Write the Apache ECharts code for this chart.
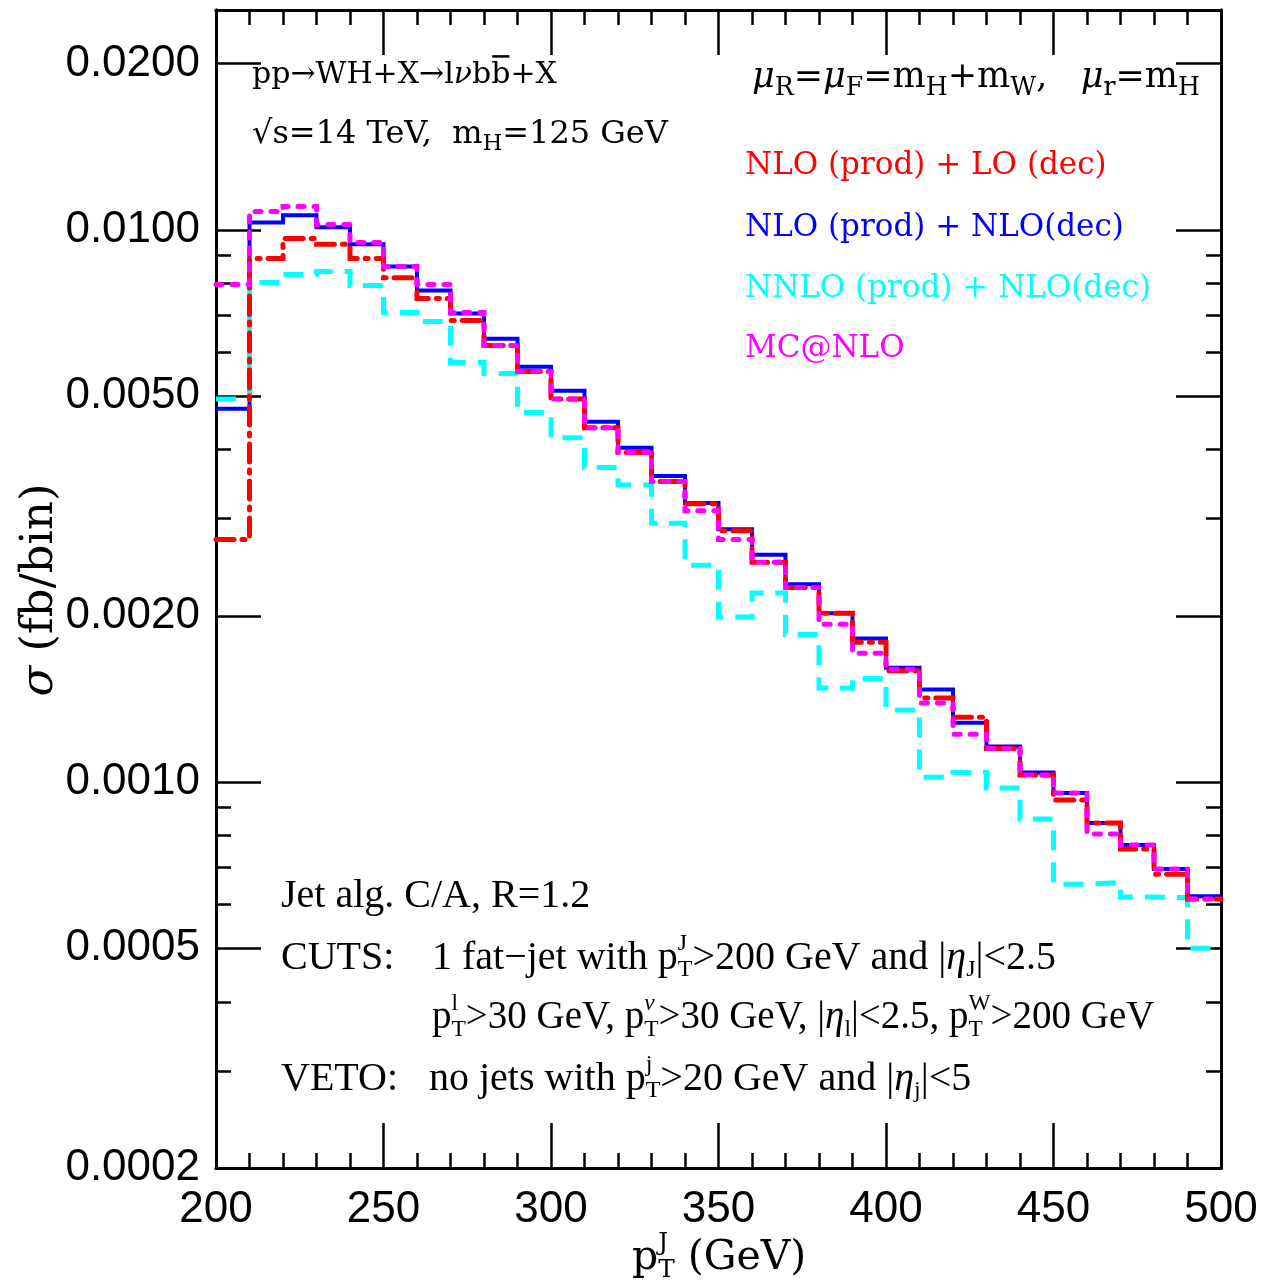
<!DOCTYPE html>
<html><head><meta charset="utf-8">
<script src="https://cdn.jsdelivr.net/npm/echarts@6/dist/echarts.min.js"></script>
<style>html,body{margin:0;padding:0;background:#fff}#c{width:1261px;height:1285px}</style>
</head><body><div id="c"></div>
<script>
// ---------------- data ----------------
const binEdges = [200,210,220,230,240,250,260,270,280,290,300,310,320,330,340,350,360,370,380,390,400,410,420,430,440,450,460,470,480,490,500];
const nloProdLoDec = [0.00275,0.00887,0.00964,0.00941,0.00887,0.00819,0.00751,0.00685,0.00617,0.00554,0.00494,0.00438,0.00395,0.00350,0.00319,0.00285,0.00250,0.00225,0.00202,0.00179,0.00159,0.00142,0.00131,0.00115,0.00103,0.000928,0.000843,0.000756,0.000681,0.000614];
const nloProdNloDec = [0.00474,0.01031,0.01062,0.01010,0.00941,0.00858,0.00776,0.00705,0.00635,0.00565,0.00511,0.00449,0.00403,0.00358,0.00320,0.00287,0.00258,0.00228,0.00202,0.00182,0.00161,0.00147,0.00128,0.00116,0.00104,0.000955,0.000843,0.000769,0.000696,0.000621];
const nnloProdNloDec = [0.00494,0.00803,0.00830,0.00840,0.00793,0.00708,0.00682,0.00575,0.00549,0.00467,0.00420,0.00371,0.00345,0.00294,0.00247,0.00199,0.00220,0.00185,0.00148,0.00154,0.00135,0.00102,0.00104,0.000975,0.000857,0.000653,0.000658,0.000619,0.000617,0.000500];
const mcAtNlo = [0.00796,0.01079,0.01102,0.01022,0.00948,0.00858,0.00796,0.00708,0.00617,0.00554,0.00494,0.00438,0.00395,0.00350,0.00310,0.00275,0.00250,0.00225,0.00193,0.00171,0.00160,0.00139,0.00122,0.00115,0.00103,0.000955,0.000805,0.000769,0.000696,0.000614];
const xTickValues = [200,250,300,350,400,450,500];
const yMajorTicks = [0.0002,0.0005,0.001,0.002,0.005,0.01,0.02];
const yMinorTicks = [0.0003,0.0004,0.0006,0.0007,0.0008,0.0009,0.003,0.004,0.006,0.007,0.008,0.009];
const seriesNames = ['NLO (prod) + LO (dec)','NLO (prod) + NLO(dec)','NNLO (prod) + NLO(dec)','MC@NLO'];

// ---------------- helpers ----------------
function histData(vals){ return binEdges.map((x,i)=>[x, vals[Math.min(i, vals.length-1)]]); }
const mctx = document.createElement('canvas').getContext('2d');
function fontStr(size, fam, it){ return (it?'italic ':'') + size + 'px ' + fam; }
function tw(t, size, fam, it){ mctx.font = fontStr(size, fam, it); return mctx.measureText(t).width; }
function txt(x, y, t, size, fam, color, it){
  return {type:'text', x:x, y:y, silent:true, z:100,
    style:{text:t, font:fontStr(size,fam,it), fill:color, align:'left', verticalAlign:'middle'}};
}
function addLine(els, x, y, parts, opt){
  const size = opt.size, fam = opt.family, color = opt.color || '#000';
  const sc = opt.scriptScale || 0.62;
  let cx = x;
  for (let p of parts){
    if (typeof p === 'string') p = {t:p};
    if (p.t){
      els.push(txt(cx, y, p.t, size, fam, color, p.i));
      const w = tw(p.t, size, fam, p.i);
      if (p.bar) els.push({type:'line', z:100, silent:true, shape:{x1:cx+1,y1:y-size*0.62,x2:cx+w-1,y2:y-size*0.62}, style:{stroke:color,lineWidth:2.5}});
      cx += w;
    }
    if (p.sub !== undefined || p.sup !== undefined){
      const ss = size*sc; let w = 0;
      if (p.sub){ els.push(txt(cx, y+size*0.3, p.sub, ss, fam, color, p.subI)); w = Math.max(w, tw(p.sub, ss, fam, p.subI)); }
      if (p.sup){ els.push(txt(cx, y-size*0.36, p.sup, ss, fam, color, p.supI)); w = Math.max(w, tw(p.sup, ss, fam, p.supI)); }
      cx += w;
    }
  }
  return cx;
}

const SERIF = '"DejaVu Serif", "Liberation Serif", serif';
const LSERIF = '"Liberation Serif", serif';
const els = [];
addLine(els, 252, 75, ['pp\u2192WH+X\u2192l',{t:'\u03bd',i:true},'b',{t:'b',bar:true},'+X'], {size:30, family:SERIF});
addLine(els, 252, 135, ['\u221as=14 TeV,  m',{sub:'H'},'=125 GeV'], {size:32, family:SERIF, scriptScale:0.7});
addLine(els, 752, 78, [{t:'\u03bc',i:true},{sub:'R'},'=',{t:'\u03bc',i:true},{sub:'F'},'=m',{sub:'H'},'+m',{sub:'W'},',   ',{t:'\u03bc',i:true},{sub:'r'},'=m',{sub:'H'}], {size:35, family:SERIF, scriptScale:0.72});
const legColors = ['#ff0000','#0000ff','#00ffff','#ff00ff'];
const legY = [166,228,289,349];
seriesNames.forEach((n,i)=>addLine(els, 745, legY[i], [n], {size:31, family:SERIF, color:legColors[i]}));

const botFont = {size:40, family:LSERIF, scriptScale:0.6};
addLine(els, 281, 896, ['Jet alg. C/A, R=1.2'], botFont);
addLine(els, 281, 958, ['CUTS:'], botFont);
addLine(els, 432, 958, ['1 fat\u2212jet with p',{sub:'T',sup:'J'},'>200 GeV and |',{t:'\u03b7',i:true},{sub:'J'},'|<2.5'], botFont);
addLine(els, 432, 1018, ['p',{sub:'T',sup:'l'},'>30 GeV, p',{sub:'T',sup:'\u03bd',supI:true},'>30 GeV, |',{t:'\u03b7',i:true},{sub:'l'},'|<2.5, p',{sub:'T',sup:'W'},'>200 GeV'], {size:39, family:LSERIF, scriptScale:0.6});
addLine(els, 281, 1079, ['VETO:'], botFont);
addLine(els, 429, 1079, ['no jets with p',{sub:'T',sup:'j'},'>20 GeV and |',{t:'\u03b7',i:true},{sub:'j'},'|<5'], botFont);

// axis titles
addLine(els, 632, 1258, ['p',{sub:'T',sup:'J'},' (GeV)'], {size:41, family:SERIF, scriptScale:0.6});
els.push({type:'text', x:40, y:590, rotation:Math.PI/2, silent:true,
  style:{text:'{i|\u03c3} (fb/bin)', font:'45px '+SERIF, fill:'#000', align:'center', verticalAlign:'middle',
    rich:{i:{fontStyle:'italic', font:'italic 45px '+SERIF}}}});

// ---------------- chart ----------------
const chart = echarts.init(document.getElementById('c'), null, {renderer:'canvas'});
const LBL = {fontFamily:'"Liberation Sans"', fontSize:44, color:'#000'};
const axLine = {show:true, lineStyle:{color:'#000', width:3}};
function xAx(pos, interval, len, labels){
  return {type:'value', position:pos, min:200, max:500, interval:interval,
    axisLine:axLine, splitLine:{show:false},
    axisTick:{show:true, inside:true, length:len, lineStyle:{color:'#000', width:2.5}},
    axisLabel:labels ? Object.assign({show:true, margin:20, formatter:v=>String(v)}, LBL) : {show:false}};
}
function yAx(pos, ticks, len, labels){
  return {type:'log', logBase:10, position:pos, min:0.000199999, max:0.025,
    axisLine:axLine, splitLine:{show:false}, minorTick:{show:false},
    axisTick:{show:true, inside:true, length:len, customValues:ticks, lineStyle:{color:'#000', width:2.5}},
    axisLabel:labels ? Object.assign({show:true, margin:16, customValues:ticks, formatter:v=>Number(v).toFixed(4)}, LBL) : {show:false}};
}
function mkSeries(name, vals, color, width, type, cap){
  return {name:name, type:'line', step:'end', xAxisIndex:0, yAxisIndex:0, data:histData(vals),
    showSymbol:false, symbol:'none', clip:true,
    lineStyle:{color:color, width:width, type:type, cap:cap||'butt', join:'miter'}};
}
chart.setOption({
  animation:false,
  backgroundColor:'#fff',
  grid:{left:216, right:40, top:10, bottom:117, containLabel:false},
  xAxis:[xAx('bottom',50,45,true), xAx('bottom',10,15,false), xAx('top',50,45,false), xAx('top',10,15,false)],
  yAxis:[yAx('left',yMajorTicks,45,true), yAx('left',yMinorTicks,15,false), yAx('right',yMajorTicks,45,false), yAx('right',yMinorTicks,15,false)],
  series:[
    mkSeries(seriesNames[1], nloProdNloDec, '#0000ff', 4, 'solid'),
    mkSeries(seriesNames[2], nnloProdNloDec, '#00ffff', 5, [20,12]),
    mkSeries(seriesNames[0], nloProdLoDec, '#ff0000', 5, [18,8,3,8], 'round'),
    mkSeries(seriesNames[3], mcAtNlo, '#ff00ff', 5, [6,10], 'round')
  ],
  graphic:{elements:els}
});
</script></body></html>
